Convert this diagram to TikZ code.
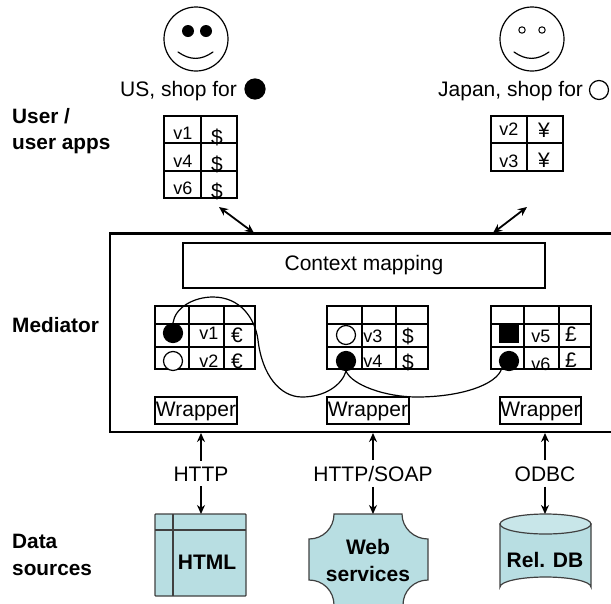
\documentclass[tikz,border=0pt]{standalone}
\usepackage{fontspec}
\setmainfont{Liberation Sans}
\usetikzlibrary{arrows.meta}
\definecolor{src}{HTML}{B8DEE2}
\definecolor{srctop}{HTML}{C8E6E9}
\newcommand{\fs}[1]{\fontsize{#1}{#1}\selectfont}
\tikzset{
  x=1pt,y=-1pt,
  grid/.style={draw=black,line width=1.2pt},
  lbl/.style={inner sep=0pt,font=\fs{21}},
  head/.style={inner sep=0pt,anchor=base west,font=\fs{20.8}\bfseries},
  cell/.style={inner sep=0pt,font=\fs{18}},
  money/.style={inner sep=0pt,font=\fs{21}},
  wrap/.style={draw=black,line width=1.2pt,inner sep=0pt,font=\fs{21},minimum height=27pt,text height=15pt,text depth=4pt},
  srctext/.style={inner sep=0pt,font=\fs{21}\bfseries,align=center},
  dbl/.style={line width=1.8pt,{Stealth[length=9pt,width=8pt]}-{Stealth[length=9pt,width=8pt]}},
  one/.style={line width=1.8pt,-{Stealth[length=9pt,width=8pt]}},
  blackdot/.style={circle,fill=black,draw=black,line width=1.2pt,inner sep=0pt,minimum size=19pt},
  whitedot/.style={circle,fill=white,draw=black,line width=1.2pt,inner sep=0pt,minimum size=19pt},
  face/.style={circle,draw=black,line width=1.2pt,inner sep=0pt,minimum size=64pt},
  link/.style={line width=1.2pt},
  srcline/.style={draw=black!75,line width=1.2pt,fill=src},
}
\begin{document}
\begin{tikzpicture}
\useasboundingbox (0,0) rectangle (611,603);
\clip (0,0) rectangle (611,603);
% faces
\node[face] (faceus) at (196,39) {};
\fill (188,31) circle (6) (206,31) circle (6);
\draw[link,line cap=round] (178,52) .. controls (190,60.5) and (201,60.5) .. (213,52);
\node[face] (facejp) at (532,39) {};
\draw[line width=1pt] (522,30) circle (3.2) (542,30) circle (3.2);
\draw[link,line cap=round] (514,52) .. controls (526,60.5) and (537,60.5) .. (549,52);
% captions
\node[lbl,anchor=base west] (capus) at (120,96) {US, shop for};
\node[blackdot,minimum size=20pt] (dotus) at (255,89) {};
\node[lbl,anchor=base west] (capjp) at (438,96) {Japan, shop for};
\node[whitedot] (dotjp) at (599,90) {};
% left headings
\node[head] (h1) at (12,123) {User /};
\node[head] (h2) at (12,149) {user apps};
\node[head] (h3) at (12,332) {Mediator};
\node[head] (h4) at (12,548) {Data};
\node[head] (h5) at (12,575) {sources};
% user table US
\draw[grid] (164,116) rectangle (237,198) (201,116) -- (201,198) (164,143) -- (237,143) (164,171) -- (237,171);
\node[cell] (a1) at (183,133) {v1}; \node[money] (a2) at (217,137) {\$};
\node[cell] (a3) at (183,161) {v4}; \node[money] (a4) at (217,164) {\$};
\node[cell] (a5) at (183,188) {v6}; \node[money] (a6) at (217,191) {\$};
% user table JP
\draw[grid] (491,116) rectangle (563,171) (527,116) -- (527,171) (491,143) -- (563,143);
\node[cell] (b1) at (509,129) {v2}; \node[money] (b2) at (544,130) {¥};
\node[cell] (b3) at (509,161) {v3}; \node[money] (b4) at (544,160) {¥};
% mediator
\draw[line width=2.6pt] (620,233.5) -- (110,233.5) -- (110,432) -- (620,432);
\coordinate (medus) at (254,233);
\coordinate (medjp) at (493,233);
\coordinate (tabus) at (219,207);
\coordinate (tabjp) at (527,207);
\draw[dbl] (tabus) -- (medus);
\draw[dbl] (tabjp) -- (medjp);
\node[draw=black,line width=1.2pt,inner sep=0pt,minimum width=362pt,minimum height=45pt,font=\fs{21}] (ctx) at (364,265.5) {Context mapping};
% table A
\draw[grid] (155,306) rectangle (255,369) (189,306) -- (189,369) (224,306) -- (224,369) (155,324) -- (255,324) (155,347) -- (255,347);
\node[blackdot] (ca1) at (173,333) {};
\node[whitedot] (ca2) at (173,361) {};
\node[cell] (t1) at (209,333) {v1}; \node[money] (t2) at (237,335) {€};
\node[cell] (t3) at (209,361) {v2}; \node[money] (t4) at (237,361) {€};
% table B
\draw[grid] (327,306) rectangle (428,369) (362,306) -- (362,369) (396,306) -- (396,369) (327,324) -- (428,324) (327,347) -- (428,347);
\node[whitedot] (cb1) at (346,335) {};
\node[blackdot] (cb2) at (346,361) {};
\node[cell] (t5) at (373,336) {v3}; \node[money] (t6) at (408,336) {\$};
\node[cell] (t7) at (373,361) {v4}; \node[money] (t8) at (408,362) {\$};
% table C
\draw[grid] (491,306) rectangle (591,369) (524,306) -- (524,369) (559,306) -- (559,369) (491,324) -- (591,324) (491,347) -- (591,347);
\node[fill=black,inner sep=0pt,minimum width=20pt,minimum height=18pt] (cc1) at (509,334) {};
\node[blackdot] (cc2) at (509,361) {};
\node[cell] (t9) at (541,336) {v5}; \node[money] (t10) at (571,334) {£};
\node[cell] (t11) at (541,364) {v6}; \node[money] (t12) at (571,360) {£};
% curves
\draw[link] (ca1.north) .. controls (175,308) and (193,297) .. (213,297)
  .. controls (240,297) and (255,318) .. (258,340)
  .. controls (262,375) and (280,397) .. (302,397)
  .. controls (325,397) and (342,385) .. (cb2.south);
\draw[link] (cb2.south) .. controls (352,385) and (385,397) .. (417,397)
  .. controls (460,397) and (497,385) .. (cc2.south west);
% wrappers
\node[wrap,minimum width=82pt] (w1) at (196,410.5) {Wrapper};
\node[wrap,minimum width=82pt] (w2) at (368,410.5) {Wrapper};
\node[wrap,minimum width=81pt] (w3) at (540.5,410.5) {Wrapper};
% protocols
\node[lbl] (p1) at (201,474) {HTTP};
\node[lbl] (p2) at (373,474) {HTTP/SOAP};
\node[lbl] (p3) at (545,474) {ODBC};
\coordinate (m1) at (201,433); \coordinate (m2) at (373,433); \coordinate (m3) at (545,433);
\draw[one] (p1.north) ++(0,-6) -- (m1);
\draw[one] (p2.north) ++(0,-6) -- (m2);
\draw[one] (p3.north) ++(0,-6) -- (m3);
% sources
\node[srcline,inner sep=0pt,minimum width=91pt,minimum height=82pt,rounded corners=0.8pt] (html) at (200.5,555) {};
\draw[draw=black!75,line width=1.2pt] (173,514) -- (173,596) (155,530) -- (246,530);
\node[srctext] (htmlt) at (207,562) {HTML};
\path[srcline] (334,514) -- (402,514) .. controls (402,528) and (414,539) .. (428,539) -- (428,580)
  .. controls (414,580) and (403,591) .. (403,605) -- (334,605)
  .. controls (334,591) and (323,580) .. (309,580) -- (309,539)
  .. controls (323,539) and (334,528) .. (334,514) -- cycle;
\node[srctext] (webt) at (368,560) {Web\\[6pt]services};
\coordinate (wsv) at (373,514);
\path[srcline] (500,524) -- (500,587) arc[x radius=45.5,y radius=10,start angle=180,end angle=360] -- (591,524) -- cycle;
\draw[draw=black!75,line width=1.2pt,fill=srctop] (545.5,524) ellipse[x radius=45.5,y radius=10];
\node[srctext] (dbt) at (545,560) {Rel. DB};
\coordinate (htm) at (201,514); \coordinate (dbc) at (545,514);
\draw[one] (p1.south) ++(0,5) -- (htm);
\draw[one] (p2.south) ++(0,5) -- (wsv);
\draw[one] (p3.south) ++(0,5) -- (dbc);
\end{tikzpicture}
\end{document}
